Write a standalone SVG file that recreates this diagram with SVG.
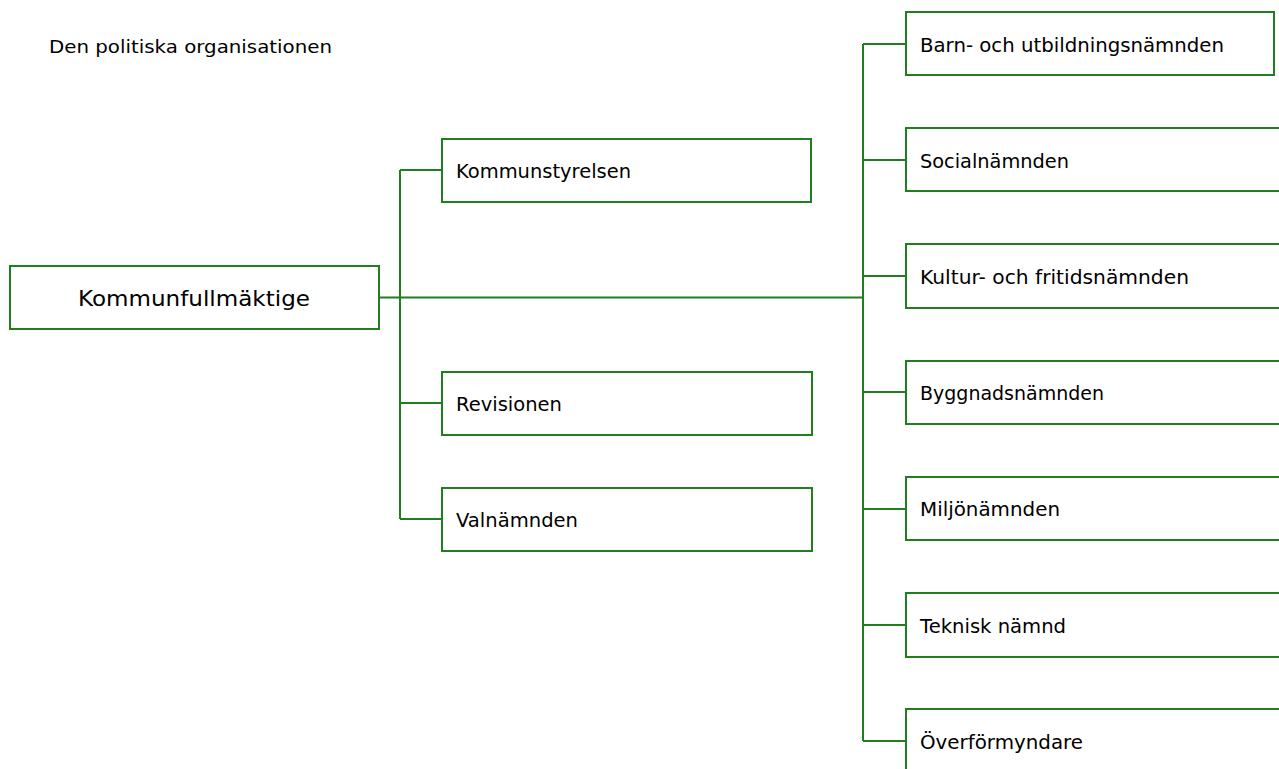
<svg xmlns="http://www.w3.org/2000/svg" width="1279" height="769" viewBox="0 0 1279 769">
<style>
.box{fill:#fff;stroke:#1f7f1f;stroke-width:2}
.ln{fill:none;stroke:#1f7f1f;stroke-width:2}
text{font-family:"DejaVu Sans","Liberation Sans",sans-serif;fill:#000}
.t{font-size:19.5px}
</style>
<rect width="1279" height="769" fill="#fff"/>
<text id="title" x="49" y="53" style="font-size:18px" textLength="283" lengthAdjust="spacingAndGlyphs">Den politiska organisationen</text>
<g id="connectors">
<path class="ln" d="M379 297.5H863"/>
<path class="ln" d="M400 170V519M400 170H442M400 403H442M400 519H442"/>
<path class="ln" d="M863 44V741M863 44H906M863 160H906M863 276H906M863 392H906M863 509H906M863 625H906M863 741H906"/>
</g>
<g id="kommunfullmaktige"><rect class="box" x="10" y="266" width="369" height="63"/><text x="194" y="306" text-anchor="middle" style="font-size:22px" textLength="232" lengthAdjust="spacingAndGlyphs">Kommunfullmäktige</text></g>
<g id="kommunstyrelsen"><rect class="box" x="442" y="139" width="369" height="63"/><text class="t" x="456" y="178" textLength="175" lengthAdjust="spacingAndGlyphs">Kommunstyrelsen</text></g>
<g id="revisionen"><rect class="box" x="442" y="372" width="370" height="63"/><text class="t" x="456" y="411" textLength="106" lengthAdjust="spacingAndGlyphs">Revisionen</text></g>
<g id="valnamnden"><rect class="box" x="442" y="488" width="370" height="63"/><text class="t" x="456" y="527" textLength="122" lengthAdjust="spacingAndGlyphs">Valnämnden</text></g>
<g id="barn"><rect class="box" x="906" y="12" width="368" height="63"/><text class="t" x="920" y="52" textLength="304" lengthAdjust="spacingAndGlyphs">Barn- och utbildningsnämnden</text></g>
<g id="social"><rect class="box" x="906" y="128" width="380" height="63"/><text class="t" x="920" y="168" textLength="149" lengthAdjust="spacingAndGlyphs">Socialnämnden</text></g>
<g id="kultur"><rect class="box" x="906" y="244" width="380" height="64"/><text class="t" x="920" y="284" textLength="269" lengthAdjust="spacingAndGlyphs">Kultur- och fritidsnämnden</text></g>
<g id="bygg"><rect class="box" x="906" y="361" width="380" height="63"/><text class="t" x="920" y="400" textLength="184" lengthAdjust="spacingAndGlyphs">Byggnadsnämnden</text></g>
<g id="miljo"><rect class="box" x="906" y="477" width="380" height="63"/><text class="t" x="920" y="516" textLength="140" lengthAdjust="spacingAndGlyphs">Miljönämnden</text></g>
<g id="teknisk"><rect class="box" x="906" y="593" width="380" height="64"/><text class="t" x="920" y="633" textLength="146" lengthAdjust="spacingAndGlyphs">Teknisk nämnd</text></g>
<g id="overformyndare"><rect class="box" x="906" y="709" width="380" height="80"/><text class="t" x="920" y="749" textLength="163" lengthAdjust="spacingAndGlyphs">Överförmyndare</text></g>
</svg>
